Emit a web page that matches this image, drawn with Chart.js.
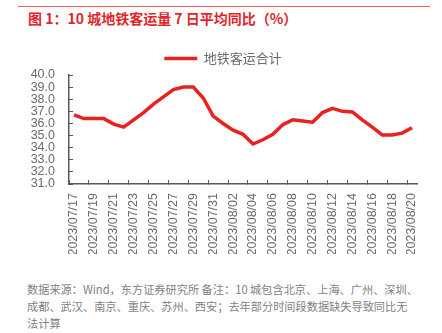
<!DOCTYPE html>
<html lang="zh">
<head>
  <meta charset="UTF-8" />
  <title>10 城地铁客运量 7 日平均同比</title>
  <script src="https://cdn.jsdelivr.net/npm/chart.js"></script>
  <style>
    body {
      margin: 0;
      width: 442px;
      height: 333px;
      background: #fff;
      position: relative;
      overflow: hidden;
      font-family: 'Noto Sans CJK SC', 'Liberation Sans', sans-serif;
    }
    .topline {
      position: absolute;
      left: 18px;
      top: 6px;
      width: 412px;
      height: 1px;
      background: #ef5a5a;
    }
    h2 {
      position: absolute;
      left: 28px;
      top: 8px;
      margin: 0;
      font-size: 14px;
      line-height: 20px;
      font-weight: bold;
      color: #e0262b;
      white-space: nowrap;
    }
    #wrap {
      position: absolute;
      left: 0;
      top: 0;
      width: 442px;
      height: 270px;
    }
    .note {
      position: absolute;
      left: 27px;
      top: 281px;
      margin: 0;
      font-size: 11.2px;
      line-height: 17px;
      color: #7f7f7f;
      white-space: nowrap;
    }
  </style>
</head>
<body>
  <div class="topline"></div>
  <h2>图 1：10 城地铁客运量 7 日平均同比（%）</h2>

  <div id="wrap"><canvas id="metroChart"></canvas></div>

  <p class="note">数据来源：Wind，东方证券研究所 备注：10 城包含北京、上海、广州、深圳、<br>成都、武汉、南京、重庆、苏州、西安；去年部分时间段数据缺失导致同比无<br>法计算</p>

  <script>
    const dates = [
      '2023/07/17', '2023/07/18', '2023/07/19', '2023/07/20', '2023/07/21', '2023/07/22', '2023/07/23',
      '2023/07/24', '2023/07/25', '2023/07/26', '2023/07/27', '2023/07/28', '2023/07/29', '2023/07/30',
      '2023/07/31', '2023/08/01', '2023/08/02', '2023/08/03', '2023/08/04', '2023/08/05', '2023/08/06',
      '2023/08/07', '2023/08/08', '2023/08/09', '2023/08/10', '2023/08/11', '2023/08/12', '2023/08/13',
      '2023/08/14', '2023/08/15', '2023/08/16', '2023/08/17', '2023/08/18', '2023/08/19', '2023/08/20'
    ];

    // 地铁客运合计, 7 日平均同比 (%)
    const metroTotal = [
      36.7, 36.4, 36.4, 36.4, 35.95, 35.7, 36.3,
      36.9, 37.6, 38.2, 38.8, 39.0, 39.0, 38.1,
      36.6, 36.0, 35.45, 35.1, 34.3, 34.65, 35.1,
      35.9, 36.3, 36.2, 36.1, 36.9, 37.25, 37.0,
      36.95, 36.3, 35.7, 35.05, 35.05, 35.2, 35.65
    ];

    const yMin = 31, yMax = 40;

    const red = '#e8231f';
    const axisGray = '#595959';
    const labelGray = '#6b6b6b';

    const ctx = document.getElementById('metroChart').getContext('2d');
    new Chart(ctx, {
      type: 'line',
      data: {
        labels: dates,
        datasets: [{
          label: '地铁客运合计',
          data: metroTotal,
          borderColor: red,
          backgroundColor: red,
          borderWidth: 3.5,
          pointRadius: 0,
          pointStyle: 'line',
          tension: 0
        }]
      },
      options: {
        responsive: true,
        maintainAspectRatio: false,
        animation: false,
        layout: {
          padding: { left: 29, right: 25, top: 48, bottom: 16 }
        },
        plugins: {
          legend: {
            display: true,
            position: 'top',
            labels: {
              usePointStyle: true,
              pointStyle: 'line',
              pointStyleWidth: 33,
              padding: 4,
              color: labelGray,
              font: { family: "'Noto Sans CJK SC', sans-serif", size: 13 }
            }
          },
          tooltip: { enabled: false }
        },
        scales: {
          x: {
            offset: true,
            afterFit: (scale) => { scale.height = 70; },
            grid: {
              offset: true,
              drawOnChartArea: false,
              drawTicks: true,
              tickLength: -4,
              color: (c) => (c.index % 2 === 0 ? axisGray : 'rgba(0,0,0,0)'),
              lineWidth: 1
            },
            border: { display: true, color: axisGray, width: 1.5 },
            ticks: {
              autoSkip: false,
              maxRotation: 90,
              minRotation: 90,
              padding: 13,
              color: labelGray,
              font: { family: "'Liberation Sans', Arial, sans-serif", size: 12.5 },
              callback: function (value, index) {
                return index % 2 === 0 ? this.getLabelForValue(value) : '';
              }
            }
          },
          y: {
            min: yMin,
            max: yMax,
            afterFit: (scale) => { scale.width = 40; },
            grid: {
              drawOnChartArea: false,
              drawTicks: true,
              tickLength: -4,
              color: axisGray
            },
            border: { display: true, color: axisGray, width: 1.5 },
            ticks: {
              autoSkip: false,
              stepSize: 1,
              padding: 18,
              color: labelGray,
              font: { family: "'Liberation Sans', Arial, sans-serif", size: 12.5 },
              callback: (v) => v.toFixed(1)
            }
          }
        }
      }
    });
  </script>
</body>
</html>
